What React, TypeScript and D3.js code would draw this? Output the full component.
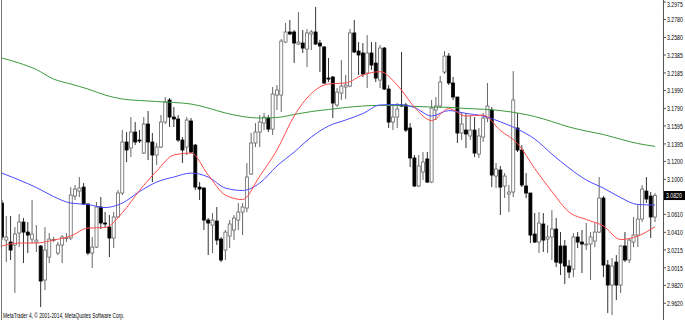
import React, { useEffect } from 'react';
import * as d3 from 'd3';

const opens = [3.0736,3.0324,3.0302,3.0269,3.0402,3.0525,3.0413,3.0335,3.0302,3.0258,2.9879,3.0135,3.0324,3.0180,3.0269,3.0347,3.0347,3.0814,3.0870,3.0914,3.0725,3.0180,3.0246,3.0692,3.0514,3.0469,3.0347,3.0581,3.0848,3.1416,3.1349,3.1527,3.1438,3.1293,3.1616,3.1416,3.1271,3.1360,3.1638,3.1884,3.1694,3.1672,3.1438,3.1360,3.1650,3.1382,3.0914,3.0903,3.0547,3.0491,3.0536,3.0335,3.0213,3.0369,3.0436,3.0547,3.0636,3.0681,3.1059,3.1405,3.1527,3.1627,3.1683,3.1560,3.1939,3.1939,3.2529,3.2641,3.2641,3.2507,3.2518,3.2451,3.2619,3.2641,3.2518,3.2474,3.2128,3.2140,3.1828,3.1961,3.2028,3.2039,3.2630,3.2429,3.2407,3.2184,3.2407,3.2295,3.2106,3.2462,3.2006,3.1638,3.1694,3.1828,3.1828,3.1572,3.1238,3.0926,3.1082,3.1227,3.0970,3.1772,3.1817,3.2195,3.2373,3.2073,3.1917,3.1516,3.1549,3.1483,3.1549,3.1282,3.1471,3.1683,3.1772,3.1037,3.1104,3.0926,3.0837,3.0859,3.1572,3.1327,3.0926,3.0848,3.0391,3.0302,3.0503,3.0335,3.0358,3.0447,3.0258,3.0258,3.0035,3.0001,3.0358,3.0302,3.0269,3.0280,3.0313,3.0413,3.0792,3.0046,2.9823,3.0079,2.9823,3.0258,3.0102,3.0302,3.0380,3.0558,3.0870,3.0814,3.0581];
const highs = [3.0770,3.0592,3.0592,3.0469,3.0614,3.0569,3.0525,3.0770,3.0491,3.0269,3.0469,3.0402,3.0358,3.0302,3.0380,3.0402,3.0914,3.0937,3.1026,3.0959,3.0736,3.0358,3.0748,3.0803,3.0636,3.0603,3.0636,3.0881,3.1549,3.1527,3.1694,3.1638,3.1549,3.1694,3.1761,3.1516,3.1405,3.1716,3.1917,3.1906,3.1805,3.1716,3.1471,3.1694,3.1683,3.1394,3.0970,3.0914,3.0569,3.0625,3.0692,3.0358,3.0436,3.0547,3.0603,3.0736,3.0736,3.1182,3.1516,3.1627,3.1716,3.1739,3.1716,3.2028,3.2050,3.2563,3.2741,3.2774,3.2663,3.2863,3.2663,3.2674,3.2663,3.2919,3.2552,3.2485,3.2351,3.2151,3.2017,3.2329,3.2162,3.2674,3.2774,3.2529,3.2518,3.2607,3.2529,3.2529,3.2496,3.2474,3.2050,3.1817,3.1850,3.2418,3.1850,3.1627,3.1271,3.1271,3.1304,3.1304,3.1884,3.1917,3.2151,3.2429,3.2407,3.2140,3.1917,3.1750,3.1739,3.1716,3.1694,3.1572,3.1739,3.2073,3.1805,3.1182,3.1149,3.1070,3.0937,3.2206,3.1739,3.1382,3.1070,3.0848,3.0625,3.0636,3.0625,3.0491,3.0658,3.0569,3.0413,3.0324,3.0102,3.0402,3.0413,3.0436,3.0514,3.0413,3.0514,3.1026,3.0814,3.0102,3.0124,3.0157,3.0269,3.0413,3.0347,3.0581,3.0714,3.0937,3.1026,3.0859,3.0848];
const lows = [3.0324,3.0079,3.0102,2.9734,3.0246,3.0068,3.0180,3.0291,3.0191,2.9578,2.9767,3.0068,3.0302,3.0157,3.0068,3.0302,3.0324,3.0770,3.0803,3.0714,3.0157,3.0013,3.0235,3.0447,3.0469,3.0135,3.0235,3.0569,3.0825,3.1193,3.1249,3.1382,3.1405,3.1282,3.1215,3.0970,3.1160,3.1349,3.1616,3.1583,3.1583,3.1416,3.1182,3.1271,3.1293,3.0881,3.0770,3.0436,3.0157,3.0180,3.0269,3.0079,3.0102,3.0235,3.0324,3.0436,3.0380,3.0636,3.1048,3.1360,3.1360,3.1549,3.1527,3.1494,3.1772,3.1750,3.2518,3.2607,3.2295,3.2496,3.2407,3.2251,3.2440,3.2496,3.2195,3.2062,3.2084,3.1683,3.1805,3.1884,3.1895,3.2028,3.2407,3.2162,3.2140,3.2017,3.2218,3.2084,3.2017,3.1995,3.1572,3.1549,3.1572,3.1805,3.1527,3.1137,3.0914,3.0914,3.0993,3.0959,3.0959,3.1661,3.1794,3.2173,3.2050,3.1884,3.1405,3.1438,3.1349,3.1438,3.1249,3.1238,3.1416,3.1638,3.0914,3.0903,3.0603,3.0792,3.0636,3.0803,3.1304,3.0914,3.0792,3.0291,3.0291,3.0180,3.0191,3.0180,3.0102,3.0024,2.9935,2.9834,2.9901,2.9912,3.0235,2.9957,3.0213,2.9879,3.0246,3.0402,2.9912,2.9511,2.9489,2.9656,2.9734,3.0079,3.0068,3.0246,3.0246,3.0525,3.0736,3.0347,3.0525];
const closes = [3.0358,3.0358,3.0213,3.0391,3.0525,3.0413,3.0380,3.0391,3.0324,2.9868,3.0213,3.0335,3.0330,3.0269,3.0358,3.0350,3.0825,3.0892,3.0903,3.0725,3.0180,3.0246,3.0692,3.0514,3.0509,3.0347,3.0581,3.0848,3.1416,3.1327,3.1527,3.1416,3.1432,3.1616,3.1416,3.1271,3.1360,3.1638,3.1861,3.1694,3.1672,3.1438,3.1327,3.1661,3.1304,3.0914,3.0892,3.0547,3.0514,3.0547,3.0324,3.0102,3.0413,3.0503,3.0569,3.0636,3.0692,3.1026,3.1405,3.1527,3.1638,3.1694,3.1560,3.1950,3.1995,3.2540,3.2641,3.2619,3.2518,3.2529,3.2462,3.2630,3.2641,3.2507,3.2485,3.2073,3.2122,3.1850,3.1972,3.2039,3.2050,3.2630,3.2418,3.2385,3.2173,3.2407,3.2273,3.2128,3.2462,3.2006,3.1638,3.1694,3.1783,3.1822,3.1549,3.1238,3.0926,3.1149,3.1193,3.0970,3.1794,3.1817,3.2084,3.2373,3.2073,3.1917,3.1516,3.1616,3.1505,3.1549,3.1293,3.1483,3.1683,3.1817,3.1048,3.1115,3.0914,3.1037,3.0859,3.1884,3.1327,3.0937,3.0848,3.0380,3.0302,3.0514,3.0324,3.0358,3.0447,3.0079,3.0068,3.0035,2.9968,3.0358,3.0302,3.0280,3.0280,3.0358,3.0413,3.0792,3.0046,2.9823,3.0035,2.9823,3.0258,3.0102,3.0324,3.0380,3.0558,3.0892,3.0781,3.0581,3.0820];

// Moving averages, read every 4th bar
const maStep = 4;
const redMA = [3.0258,3.0291,3.0291,3.0324,3.0369,3.0458,3.0464,3.0628,3.0876,3.1093,3.1271,3.1293,3.1048,3.0825,3.0775,3.1037,3.1327,3.1705,3.1956,3.2062,3.2073,3.2162,3.2199,3.2050,3.1805,3.1655,3.1789,3.1705,3.1716,3.1544,3.1399,3.1121,3.0864,3.0636,3.0553,3.0480,3.0330,3.0369,3.0472];
const blueMA = [3.1070,3.0993,3.0909,3.0809,3.0736,3.0720,3.0686,3.0736,3.0864,3.0970,3.1026,3.1070,3.1026,3.0903,3.0876,3.0959,3.1149,3.1304,3.1471,3.1594,3.1661,3.1733,3.1828,3.1833,3.1800,3.1705,3.1766,3.1735,3.1705,3.1641,3.1560,3.1449,3.1282,3.1126,3.0993,3.0903,3.0797,3.0720,3.0714];
const greenMA = [3.2351,3.2295,3.2223,3.2117,3.2062,3.2006,3.1939,3.1895,3.1878,3.1867,3.1856,3.1839,3.1794,3.1739,3.1700,3.1683,3.1689,3.1722,3.1755,3.1778,3.1800,3.1817,3.1824,3.1822,3.1813,3.1805,3.1802,3.1789,3.1781,3.1766,3.1739,3.1700,3.1644,3.1583,3.1538,3.1499,3.1447,3.1399,3.1368];

const tickLabels = ['3.2975','3.2780','3.2580','3.2385','3.2185','3.1990','3.1790','3.1595','3.1395','3.1200','3.1000','3.0610','3.0410','3.0215','3.0015','2.9820','2.9620'];
const lastPrice = '3.0820';
const footer = 'MetaTrader 4, \u00A9 2001-2014, MetaQuotes Software Corp.';

const W = 685;
const H = 320;
const AXIS_X = 663.5;

export default function App() {
  useEffect(() => {
    document.body.style.margin = '0';
  }, []);

  const n = opens.length;
  const x = d3.scaleLinear().domain([0, n - 1]).range([2, 655]);
  const y = d3.scaleLinear().domain([2.962, 3.2975]).range([303.3, 2]);

  const line = d3
    .line<number>()
    .x((_, i) => x(Math.min(i * maStep, n - 1)))
    .y((d) => y(d))
    .curve(d3.curveMonotoneX);

  const bodyW = 3;
  const font = '"Liberation Sans", Arial, sans-serif';
  // label glyphs are narrow in the reference: draw at 7px and squeeze horizontally
  const sx = 0.74;

  return (
    <svg width={W} height={H} style={{ position: 'absolute', left: 0, top: 0, display: 'block', background: '#fff' }}>
      <defs>
        <clipPath id="plot">
          <rect x={2} y={0} width={AXIS_X - 2} height={H} />
        </clipPath>
      </defs>
      <rect x={0} y={0} width={W} height={H} fill="#fff" />
      <line x1={1.5} x2={1.5} y1={0} y2={H} stroke="#777" strokeWidth={1} />
      <line x1={AXIS_X} x2={AXIS_X} y1={0} y2={H} stroke="#555" strokeWidth={1} />

      <g clipPath="url(#plot)">
        {opens.map((o, i) => {
          const c = closes[i];
          const xc = x(i);
          const top = y(Math.max(o, c));
          const bot = y(Math.min(o, c));
          const bull = c >= o;
          return (
            <g key={i}>
              <line x1={xc} x2={xc} y1={y(highs[i])} y2={y(lows[i])} stroke={bull ? '#666' : '#333'} strokeWidth={1} />
              <rect
                x={xc - bodyW / 2}
                y={top}
                width={bodyW}
                height={Math.max(1, bot - top)}
                fill={bull ? '#fff' : '#000'}
                stroke={bull ? '#666' : '#000'}
                strokeWidth={0.8}
              />
            </g>
          );
        })}
        <path d={line(greenMA) || ''} fill="none" stroke="#3c9a3c" strokeWidth={1} />
        <path d={line(blueMA) || ''} fill="none" stroke="#4a4aff" strokeWidth={1} />
        <path d={line(redMA) || ''} fill="none" stroke="#ff4a4a" strokeWidth={1} />
      </g>

      {tickLabels.map((t) => {
        const yy = Math.max(y(+t), 4.5);
        return (
          <g key={t}>
            <line x1={AXIS_X} x2={AXIS_X + 2.5} y1={y(+t)} y2={y(+t)} stroke="#555" strokeWidth={1} />
            <text
              transform={`translate(667,${yy}) scale(${sx},1)`}
              dominantBaseline="central"
              fontFamily={font}
              fontSize={7}
              fill="#000"
            >
              {t}
            </text>
          </g>
        );
      })}
      <rect x={664} y={y(+lastPrice) - 4.5} width={21} height={9} fill="#000" />
      <text
        transform={`translate(666,${y(+lastPrice)}) scale(${sx},1)`}
        dominantBaseline="central"
        fontFamily={font}
        fontSize={7}
        fill="#fff"
      >
        {lastPrice}
      </text>

      <text
        transform={`translate(3,317.5) scale(0.74,1)`}
        fontFamily={font}
        fontSize={6.5}
        fill="#000"
      >
        {footer}
      </text>
    </svg>
  );
}
